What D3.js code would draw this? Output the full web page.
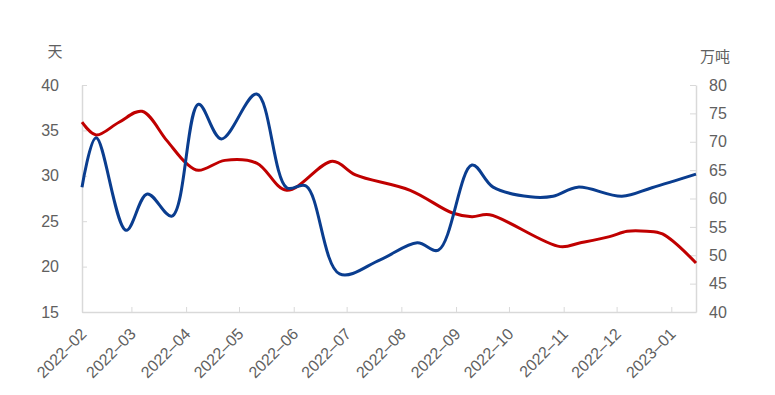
<!DOCTYPE html>
<html>
<head>
<meta charset="utf-8">
<script src="https://cdn.jsdelivr.net/npm/d3@7"></script>
<style>
body { margin: 0; background: #fff; }
svg text { font-family: "Liberation Sans", Arial, sans-serif; fill: #606060; }
.axis path, .axis line { stroke: #d9d9d9; }
</style>
</head>
<body>
<svg id="chart"></svg>
<script>
// red series, left axis (天)
var redDates = ["2022-02-01","2022-02-09","2022-02-22","2022-03-07","2022-03-21","2022-04-01",
  "2022-04-08","2022-04-23","2022-05-11","2022-05-28","2022-06-23","2022-07-06","2022-08-06",
  "2022-08-30","2022-09-10","2022-09-20","2022-10-30","2022-11-10","2022-11-27","2022-12-07",
  "2022-12-18","2022-12-27","2023-01-15"];
var redValues = [35.9,34.5,35.9,37.1,33.9,31.4,30.6,31.7,31.4,28.4,31.6,30.1,28.4,
  25.9,25.5,25.7,22.2,22.6,23.3,23.9,23.9,23.6,20.4];

// blue series, right axis (万吨)
var blueDates = ["2022-02-01","2022-02-09","2022-02-26","2022-03-10","2022-03-24","2022-04-08",
  "2022-04-21","2022-05-11","2022-05-28","2022-06-08","2022-06-27","2022-07-20","2022-08-10",
  "2022-08-22","2022-09-10","2022-09-22","2022-10-13","2022-10-26","2022-11-09","2022-12-04",
  "2022-12-21","2023-01-15"];
var blueValues = [62.0,70.7,54.4,60.8,56.9,76.6,70.5,78.4,61.9,62.2,46.7,49.2,52.2,
  50.9,65.9,62.0,60.3,60.4,62.0,60.4,61.9,64.3];

var monthTicks = ["2022-02","2022-03","2022-04","2022-05","2022-06","2022-07","2022-08",
  "2022-09","2022-10","2022-11","2022-12","2023-01"];
var leftTicks = [15,20,25,30,35,40];
var rightTicks = [40,45,50,55,60,65,70,75,80];

var screen = {width:775, height:395};
var margins = {left:82, right:79, top:85, bottom:83};
var graph = {
  width: screen.width - margins.left - margins.right,
  height: screen.height - margins.top - margins.bottom
};

var parse = d3.timeParse("%Y-%m-%d");
var parseMonth = d3.timeParse("%Y-%m");

var svg = d3.select("#chart")
  .attr("width", screen.width)
  .attr("height", screen.height);

var target = svg.append("g")
  .attr("transform", "translate(" + margins.left + "," + margins.top + ")");

var xScale = d3.scaleTime()
  .domain([parse("2022-02-01"), parse("2023-01-15")])
  .range([0, graph.width]);
var yLeft = d3.scaleLinear().domain([15, 40]).range([graph.height, 0]);
var yRight = d3.scaleLinear().domain([40, 80]).range([graph.height, 0]);

// axes
var xAxis = d3.axisBottom(xScale)
  .tickValues(monthTicks.map(parseMonth))
  .tickSize(-5).tickSizeOuter(0)
  .tickFormat(d3.timeFormat("%Y-%m"));
var gx = target.append("g").classed("axis", true)
  .attr("transform", "translate(0," + graph.height + ")")
  .call(xAxis);
gx.selectAll("text")
  .text(function(d) { return d3.timeFormat("%Y-%m")(d).replace("-", "\u2013"); })
  .attr("text-anchor", "end")
  .attr("dy", null)
  .attr("font-size", 16)
  .attr("transform", "translate(5,23) rotate(-45)")
  .attr("y", 0).attr("x", 0);

var gl = target.append("g").classed("axis", true)
  .call(d3.axisLeft(yLeft).tickValues(leftTicks).tickSize(-5).tickSizeOuter(0));
gl.selectAll("text").attr("x", -23).attr("font-size", 16);

var gr = target.append("g").classed("axis", true)
  .attr("transform", "translate(" + graph.width + ",0)")
  .call(d3.axisRight(yRight).tickValues(rightTicks).tickSize(-6).tickSizeOuter(0));
gr.selectAll("text").attr("x", 13).attr("font-size", 16);

target.selectAll(".axis .domain").attr("stroke", "#d9d9d9").attr("stroke-width", 1.5);

// unit labels
svg.append("text").text("天")
  .attr("x", 55).attr("y", 57).attr("text-anchor", "middle")
  .attr("font-size", 15)
  .style("font-family", "'Noto Sans CJK SC', sans-serif");
svg.append("text").text("万吨")
  .attr("x", 715).attr("y", 62).attr("text-anchor", "middle")
  .attr("font-size", 15)
  .style("font-family", "'Noto Sans CJK SC', sans-serif");

// lines
var redData = redDates.map(function(d, i) { return {date: parse(d), value: redValues[i]}; });
var blueData = blueDates.map(function(d, i) { return {date: parse(d), value: blueValues[i]}; });

var redLine = d3.line()
  .x(function(d) { return xScale(d.date); })
  .y(function(d) { return yLeft(d.value); })
  .curve(d3.curveCatmullRom.alpha(0.5));
var blueLine = d3.line()
  .x(function(d) { return xScale(d.date); })
  .y(function(d) { return yRight(d.value); })
  .curve(d3.curveCatmullRom.alpha(0.5));

target.append("path").datum(redData)
  .attr("d", redLine)
  .attr("fill", "none").attr("stroke", "#c00000").attr("stroke-width", 3);
target.append("path").datum(blueData)
  .attr("d", blueLine)
  .attr("fill", "none").attr("stroke", "#0a3d8f").attr("stroke-width", 3);
</script>
</body>
</html>
